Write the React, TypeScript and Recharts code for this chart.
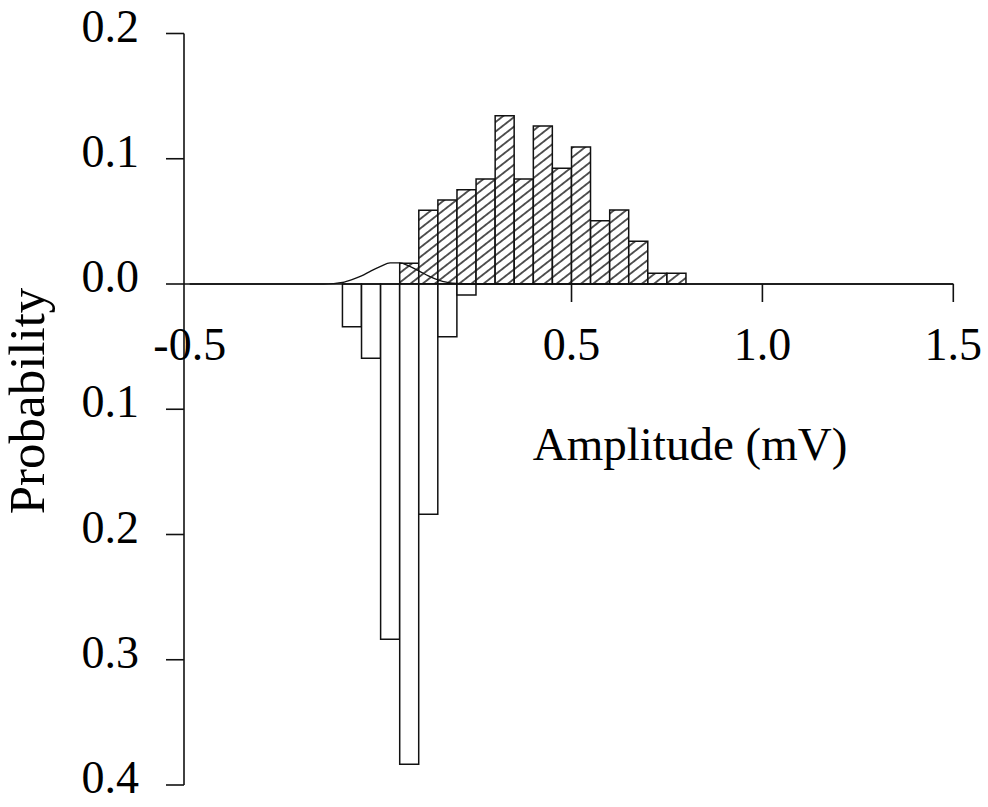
import React from 'react'
import {
  ComposedChart,
  Bar,
  Line,
  XAxis,
  YAxis,
  ReferenceLine,
  ReferenceDot,
} from 'recharts'

const FONT = '"Liberation Serif", "Times New Roman", Times, serif'

// histogram bins, 0.05 mV wide (centres in mV)
const binCentres = [
  -0.075, -0.025, 0.025, 0.075, 0.125, 0.175, 0.225, 0.275, 0.325,
  0.375, 0.425, 0.475, 0.525, 0.575, 0.625, 0.675, 0.725, 0.775,
]
// responses (hatched, plotted upward)
const responseProb = [
  0, 0, 0, 0.0165, 0.0588, 0.067, 0.0753, 0.0838, 0.1344,
  0.0838, 0.1261, 0.0924, 0.1094, 0.0505, 0.0591, 0.0341, 0.0085, 0.0085,
]
// failures / noise (open, plotted downward)
const noiseProb = [
  0.0341, 0.0593, 0.2837, 0.3835, 0.1839, 0.0421, 0.0088, 0, 0,
  0, 0, 0, 0, 0, 0, 0, 0, 0,
]

// fitted noise distribution
const fitAmp = [
  -0.5, -0.15, -0.125, -0.1, -0.075, -0.05, -0.025, 0, 0.025, 0.05,
  0.075, 0.1, 0.125, 0.15, 0.175, 0.2, 0.25, 1.5,
]
const fitProb = [
  0, 0, 0.0003, 0.0012, 0.0035, 0.0065, 0.0105, 0.014, 0.0168, 0.0168,
  0.0142, 0.0105, 0.0065, 0.0033, 0.0013, 0.0004, 0, 0,
]

const xTicks = [-0.5, 0.5, 1.0, 1.5]
const yTicks = [0.2, 0.1, 0, -0.1, -0.2, -0.3, -0.4]

const X_DOMAIN: [number, number] = [-0.515, 1.5]

const bins = binCentres.map((amp, i) => ({
  amp,
  response: responseProb[i] || null,
  noise: noiseProb[i] ? -noiseProb[i] : null,
}))

const fit = fitAmp.map((amp, i) => ({ amp, fit: fitProb[i] }))

function YTick({ x, y, payload }: any) {
  return (
    <text x={x} y={y + 8} textAnchor="end" fontFamily={FONT} fontSize={46} fill="#000">
      {Math.abs(payload.value).toFixed(1)}
    </text>
  )
}

function XTick({ cx, cy, label, mark }: any) {
  return (
    <g>
      {mark && <line x1={cx} y1={cy} x2={cx} y2={cy + 18} stroke="#111" strokeWidth={1.6} />}
      <text x={cx} y={cy + 76} textAnchor="middle" fontFamily={FONT} fontSize={46} fill="#000">
        {label}
      </text>
    </g>
  )
}

export default function App() {
  return (
    <div style={{ position: 'relative', width: 988, height: 807, background: '#fff' }}>
      <style>{'body { margin: 0; }'}</style>
      <svg width={0} height={0} style={{ position: 'absolute' }}>
        <defs>
          <pattern
            id="hatch"
            patternUnits="userSpaceOnUse"
            width={7.5}
            height={7.5}
            patternTransform="rotate(-38)"
          >
            <rect width={7.5} height={7.5} fill="#fff" />
            <line x1={0} y1={3.75} x2={7.5} y2={3.75} stroke="#111" strokeWidth={1.4} />
          </pattern>
        </defs>
      </svg>

      <ComposedChart
        width={988}
        height={807}
        data={bins}
        stackOffset="sign"
        margin={{ top: 33.5, right: 34.7, bottom: 22, left: 0 }}
      >
        <XAxis dataKey="amp" type="number" domain={X_DOMAIN} hide />
        {/* separate axis for the fitted curve so its finer sampling doesn't shrink the bins */}
        <XAxis xAxisId="fit" dataKey="amp" type="number" domain={X_DOMAIN} hide />
        <YAxis
          type="number"
          domain={[-0.4, 0.2]}
          ticks={yTicks}
          width={184}
          tickSize={18}
          tickMargin={27}
          tick={<YTick />}
          axisLine={{ stroke: '#111', strokeWidth: 1.6 }}
          tickLine={{ stroke: '#111', strokeWidth: 1.6 }}
        />

        <Bar
          dataKey="response"
          stackId="h"
          barSize={19}
          fill="url(#hatch)"
          stroke="#111"
          strokeWidth={1.5}
          isAnimationActive={false}
        />
        <Bar
          dataKey="noise"
          stackId="h"
          barSize={19}
          fill="#fff"
          stroke="#111"
          strokeWidth={1.5}
          isAnimationActive={false}
        />

        {/* amplitude axis sits on zero probability */}
        <ReferenceLine y={0} stroke="#111" strokeWidth={1.6} />

        <Line
          xAxisId="fit"
          data={fit}
          dataKey="fit"
          type="monotone"
          stroke="#111"
          strokeWidth={1.3}
          dot={false}
          activeDot={false}
          isAnimationActive={false}
        />

        {xTicks.map((v) => (
          <ReferenceDot
            key={v}
            x={v}
            y={0}
            shape={(p: any) => <XTick {...p} label={v.toFixed(1)} mark={v !== -0.5} />}
          />
        ))}
      </ComposedChart>

      <svg width={988} height={807} style={{ position: 'absolute', left: 0, top: 0, pointerEvents: 'none' }}>
        <text x={690} y={460} textAnchor="middle" fontFamily={FONT} fontSize={47} fill="#000">
          Amplitude (mV)
        </text>
        <text
          transform="translate(44 401) rotate(-90)"
          textAnchor="middle"
          fontFamily={FONT}
          fontSize={51}
          fill="#000"
        >
          Probability
        </text>
      </svg>
    </div>
  )
}
